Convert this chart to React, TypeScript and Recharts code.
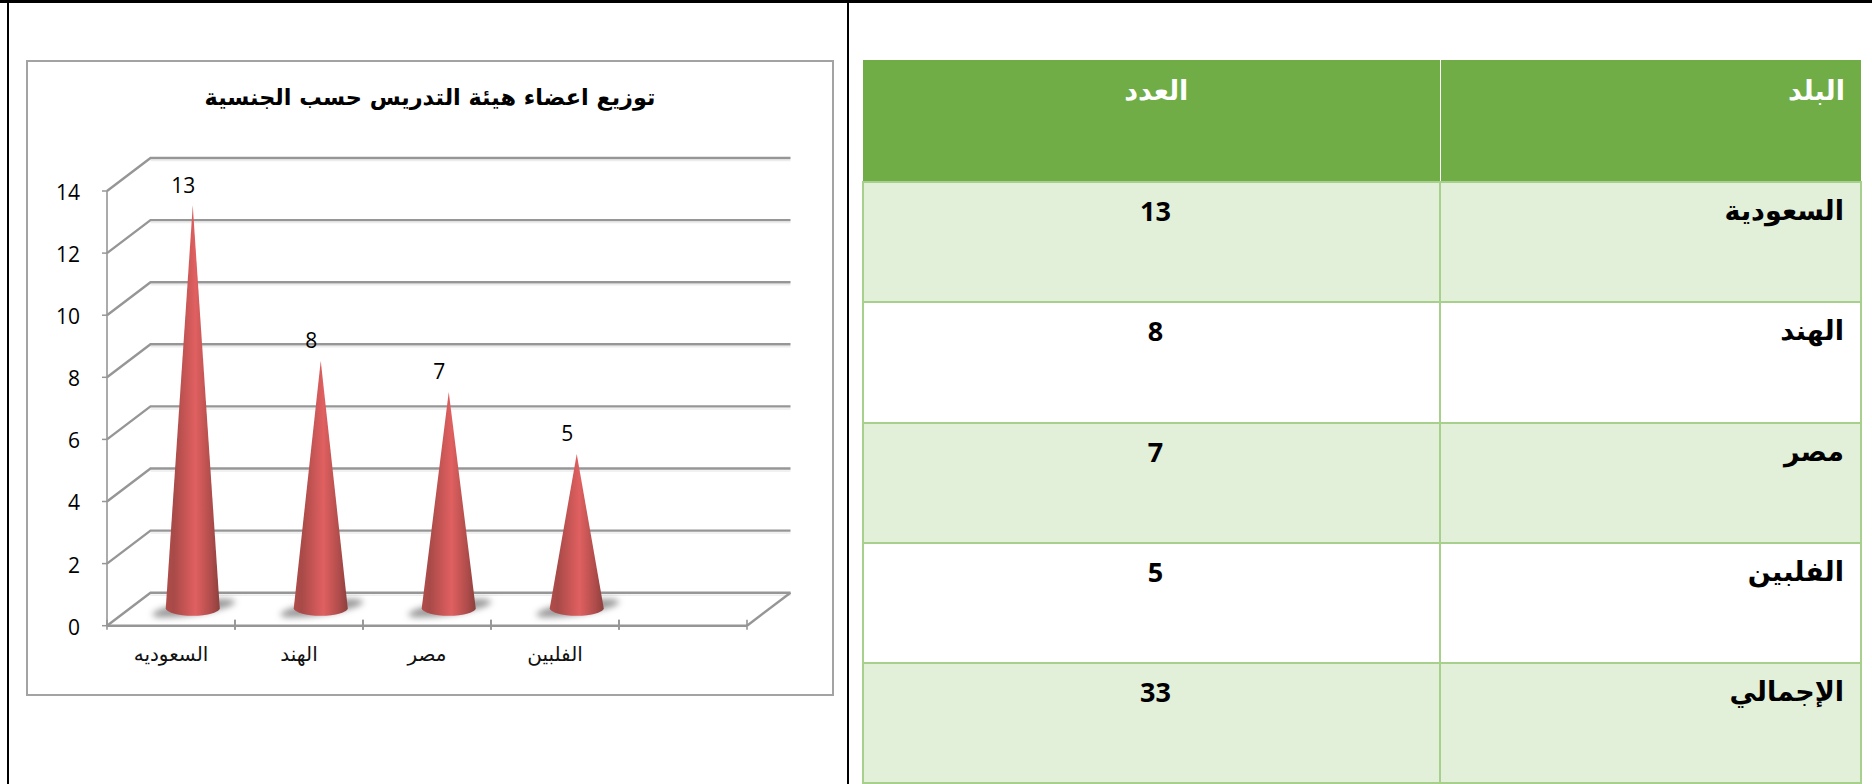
import { BarChart, Bar, XAxis, YAxis, CartesianGrid, LabelList } from "recharts";

const categories = ["السعوديه", "الهند", "مصر", "الفلبين", ""];
const values = [13, 8, 7, 5, null];
const yTicks = [0, 2, 4, 6, 8, 10, 12, 14];

const chartTitle = "توزيع اعضاء هيئة التدريس حسب الجنسية";

const tableHead = ["البلد", "العدد"];
const tableNames = ["السعودية", "الهند", "مصر", "الفلبين", "الإجمالي"];
const tableCounts = [13, 8, 7, 5, 33];

const data = categories.map((name, i) => ({ name, value: values[i] }));

const ARABIC = '"DejaVu Sans", sans-serif';
const LATIN = '"Open Sans", sans-serif';
const BAND = 128;
const DEPTH_X = 43.5;
const DEPTH_Y = 33;
const LINE = "#969696";

function GridLine(props: any) {
  const { x1, y1, x2, index } = props;
  const bx = x1 + DEPTH_X;
  const by = y1 - DEPTH_Y;
  const ex = x2 + DEPTH_X;
  return (
    <g key={index}>
      <path d={`M${bx} ${by + 2.5}H${ex}`} stroke="#ececec" strokeWidth={1.5} fill="none" />
      <path d={`M${x1} ${y1}L${bx} ${by}H${ex}`} stroke={LINE} strokeWidth={2.4} fill="none" />
      {y1 > 600 && <path d={`M${ex} ${by}L${x2} ${y1}`} stroke={LINE} strokeWidth={2.4} fill="none" />}
    </g>
  );
}

function Cone(props: any) {
  const { x, y, width, height } = props;
  if (!height) return null;
  const cx = x + width / 2 + DEPTH_X / 2;
  const apex = y - DEPTH_Y / 2;
  const base = y + height - DEPTH_Y / 2 - 1;
  const r = width / 2;
  return (
    <g>
      <ellipse
        cx={cx + 1}
        cy={base}
        rx={42}
        ry={6.5}
        fill="#999999"
        filter="url(#coneShadow)"
        transform={`rotate(-9 ${cx + 1} ${base})`}
      />
      <path
        d={`M${cx} ${apex}L${cx + r} ${base}A${r} 7.5 0 0 1 ${cx - r} ${base}Z`}
        fill="url(#coneFill)"
      />
    </g>
  );
}

function ConeLabel(props: any) {
  const { x, y, width, value } = props;
  if (value == null) return null;
  return (
    <text
      x={x + width / 2 + DEPTH_X / 2 - 9.5}
      y={y - DEPTH_Y / 2 - 21}
      textAnchor="middle"
      dominantBaseline="central"
      fontFamily={LATIN}
      fontSize={21}
      fill="#000"
    >
      {value}
    </text>
  );
}

function CategoryTick(props: any) {
  const { x, y, payload } = props;
  return (
    <g>
      <path d={`M${x - BAND / 2} ${y - 8}v10M${x + BAND / 2} ${y - 8}v10`} stroke={LINE} strokeWidth={1.6} />
      <text x={x} y={y + 26} textAnchor="middle" dominantBaseline="central" fontFamily={ARABIC} fontSize={20} fill="#111">
        {payload.value}
      </text>
    </g>
  );
}

const cellText = { verticalAlign: "top" } as const;

export default function App() {
  return (
    <div style={{ position: "absolute", left: 0, top: 0, width: 1872, height: 784, overflow: "hidden", background: "#fff" }}>
      <div style={{ position: "absolute", left: 0, top: 0, width: 1872, height: 3, background: "#000" }} />
      <div style={{ position: "absolute", left: 7, top: 0, width: 2, height: 784, background: "#000" }} />
      <div style={{ position: "absolute", left: 847, top: 0, width: 2, height: 784, background: "#000" }} />

      <div
        style={{
          position: "absolute",
          left: 26,
          top: 60,
          width: 808,
          height: 636,
          border: "2px solid #a3a3a3",
          boxSizing: "border-box",
        }}
      />
      <div
        dir="rtl"
        style={{
          position: "absolute",
          left: 26,
          top: 81,
          width: 808,
          textAlign: "center",
          fontFamily: ARABIC,
          fontWeight: "bold",
          fontSize: 22.4,
          lineHeight: "32px",
          color: "#000",
        }}
      >
        {chartTitle}
      </div>

      <div style={{ position: "absolute", left: 0, top: 0 }}>
        <BarChart
          width={850}
          height={784}
          data={data}
          barSize={54}
          margin={{ top: 191, right: 103, bottom: 118.3, left: 57 }}
        >
          <defs>
            <linearGradient id="coneFill" x1="0" y1="0" x2="1" y2="0">
              <stop offset="0" stopColor="#b04c4a" />
              <stop offset="0.15" stopColor="#a84a48" />
              <stop offset="0.55" stopColor="#e06060" />
              <stop offset="0.85" stopColor="#ad4c4a" />
              <stop offset="1" stopColor="#8c403e" />
            </linearGradient>
            <filter id="coneShadow" x="-30%" y="-80%" width="160%" height="260%">
              <feGaussianBlur stdDeviation="3" />
            </filter>
          </defs>
          <CartesianGrid vertical={false} horizontal={(p: any) => <GridLine {...p} />} />
          <XAxis
            dataKey="name"
            height={40}
            interval={0}
            tickLine={false}
            tickSize={0}
            tick={(p: any) => <CategoryTick {...p} />}
            axisLine={{ stroke: LINE, strokeWidth: 2.5 }}
          />
          <YAxis
            width={50}
            domain={[0, 14]}
            ticks={yTicks}
            interval={0}
            tickSize={5}
            tickMargin={22}
            tickLine={{ stroke: LINE, strokeWidth: 1.5 }}
            axisLine={{ stroke: LINE, strokeWidth: 1.6 }}
            tick={{ fontFamily: LATIN, fontSize: 21, fill: "#000", dy: 1.5 }}
          />
          <Bar dataKey="value" shape={(p: any) => <Cone {...p} />} isAnimationActive={false}>
            <LabelList dataKey="value" content={(p: any) => <ConeLabel {...p} />} />
          </Bar>
        </BarChart>
      </div>

      <table
        dir="rtl"
        style={{
          position: "absolute",
          left: 862,
          top: 60,
          width: 998,
          borderCollapse: "collapse",
          tableLayout: "fixed",
          fontFamily: ARABIC,
          fontWeight: "bold",
          fontSize: 27,
          lineHeight: "36px",
          color: "#000",
        }}
      >
        <colgroup>
          <col style={{ width: 421 }} />
          <col style={{ width: 577 }} />
        </colgroup>
        <thead>
          <tr style={{ height: 122, background: "#70ad47", color: "#fff" }}>
            <th style={{ ...cellText, padding: "13px 16px 0", textAlign: "right", borderLeft: "1px solid #fff" }}>
              {tableHead[0]}
            </th>
            <th style={{ ...cellText, padding: "13px 0 0 10px", textAlign: "center" }}>{tableHead[1]}</th>
          </tr>
        </thead>
        <tbody>
          {tableNames.map((name, i) => (
            <tr key={name} style={{ height: 120.3, background: i % 2 === 0 ? "#e2efd9" : "#fff" }}>
              <td style={{ ...cellText, padding: "10px 16px 0", textAlign: "right", border: "2px solid #a8d08d" }}>
                {name}
              </td>
              <td
                style={{
                  ...cellText,
                  padding: "10px 0 0 8px",
                  textAlign: "center",
                  border: "2px solid #a8d08d",
                  fontFamily: LATIN,
                  fontSize: 27,
                }}
              >
                {tableCounts[i]}
              </td>
            </tr>
          ))}
        </tbody>
      </table>
    </div>
  );
}
